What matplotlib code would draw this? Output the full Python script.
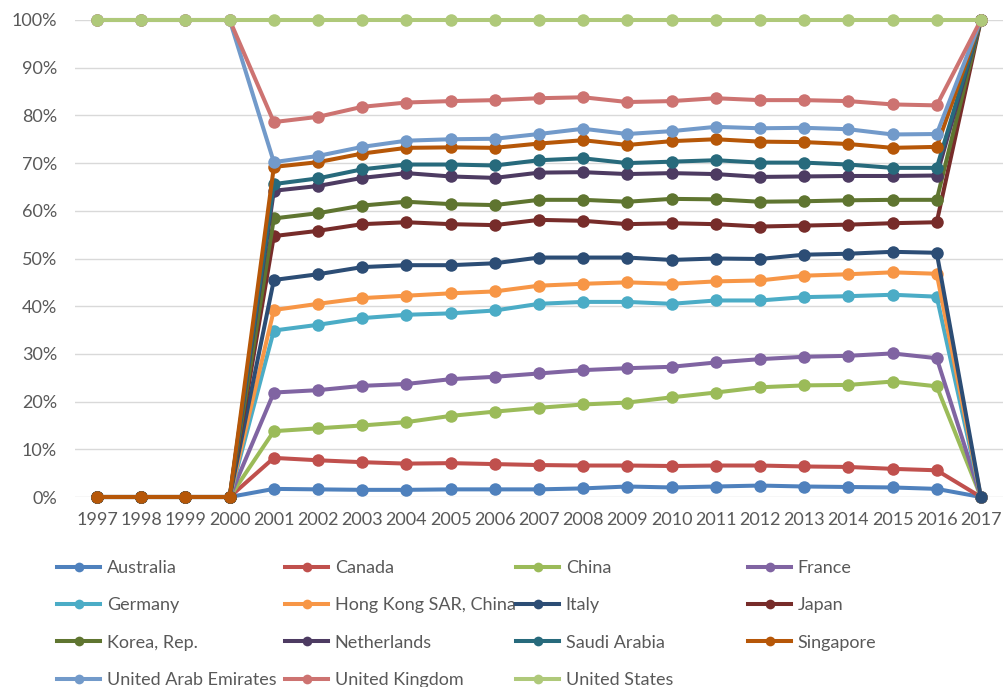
import matplotlib
matplotlib.use("Agg")
import matplotlib.pyplot as plt
from matplotlib.lines import Line2D
from matplotlib.ticker import FuncFormatter

plt.rcParams['font.family'] = ['Lato', 'DejaVu Sans']

years = list(range(1997, 2018))

countries = ["Australia", "Canada", "China", "France", "Germany",
             "Hong Kong SAR, China", "Italy", "Japan", "Korea, Rep.",
             "Netherlands", "Saudi Arabia", "Singapore",
             "United Arab Emirates", "United Kingdom", "United States"]

# plotted (cumulative, percent) values, 1997..2017
australia = [0, 0, 0, 0, 1.7, 1.6, 1.5, 1.5, 1.6, 1.6, 1.6, 1.8, 2.2, 2.0, 2.2, 2.4, 2.2, 2.1, 2.0, 1.7, 0]
canada = [0, 0, 0, 0, 8.2, 7.7, 7.3, 7.0, 7.1, 6.9, 6.7, 6.6, 6.6, 6.5, 6.6, 6.6, 6.4, 6.3, 5.9, 5.6, 0]
china = [0, 0, 0, 0, 13.8, 14.4, 15.0, 15.7, 17.0, 17.9, 18.7, 19.4, 19.8, 20.9, 21.9, 23.0, 23.4, 23.5, 24.2, 23.2, 0]
france = [0, 0, 0, 0, 21.9, 22.4, 23.3, 23.7, 24.7, 25.2, 25.9, 26.6, 27.0, 27.3, 28.2, 28.9, 29.4, 29.6, 30.1, 29.1, 0]
germany = [0, 0, 0, 0, 34.9, 36.1, 37.5, 38.2, 38.5, 39.1, 40.5, 40.9, 40.9, 40.5, 41.2, 41.2, 41.9, 42.1, 42.4, 42.0, 0]
hong_kong = [0, 0, 0, 0, 39.2, 40.5, 41.7, 42.2, 42.7, 43.1, 44.3, 44.7, 45.0, 44.7, 45.2, 45.4, 46.4, 46.7, 47.1, 46.8, 0]
italy = [0, 0, 0, 0, 45.5, 46.7, 48.2, 48.6, 48.6, 49.0, 50.2, 50.2, 50.2, 49.7, 50.0, 49.9, 50.8, 51.0, 51.4, 51.2, 0]
japan = [0, 0, 0, 0, 54.7, 55.8, 57.2, 57.6, 57.2, 57.0, 58.1, 57.9, 57.2, 57.4, 57.2, 56.7, 56.9, 57.1, 57.4, 57.6, 100]
korea = [0, 0, 0, 0, 58.4, 59.5, 61.1, 61.9, 61.4, 61.2, 62.3, 62.3, 61.9, 62.5, 62.4, 61.9, 62.0, 62.2, 62.3, 62.3, 100]
netherlands = [0, 0, 0, 0, 64.2, 65.2, 66.9, 67.9, 67.2, 66.9, 68.0, 68.1, 67.7, 67.9, 67.7, 67.1, 67.2, 67.3, 67.3, 67.4, 100]
saudi_arabia = [0, 0, 0, 0, 65.6, 66.8, 68.7, 69.7, 69.7, 69.5, 70.6, 71.0, 70.0, 70.3, 70.6, 70.1, 70.1, 69.7, 69.0, 69.0, 100]
singapore = [0, 0, 0, 0, 69.2, 70.2, 72.0, 73.2, 73.3, 73.2, 74.1, 74.8, 73.8, 74.6, 75.0, 74.5, 74.4, 74.0, 73.2, 73.4, 100]
uae = [100, 100, 100, 100, 70.2, 71.5, 73.4, 74.7, 75.0, 75.1, 76.1, 77.2, 76.1, 76.7, 77.6, 77.3, 77.4, 77.1, 76.0, 76.1, 100]
uk = [100, 100, 100, 100, 78.6, 79.7, 81.8, 82.7, 83.0, 83.2, 83.6, 83.8, 82.8, 83.0, 83.6, 83.2, 83.2, 83.0, 82.3, 82.1, 100]
us = [100] * 21

series = [australia, canada, china, france, germany, hong_kong, italy, japan,
          korea, netherlands, saudi_arabia, singapore, uae, uk, us]

colors = ["#4F81BD", "#C0504D", "#9BBB59", "#8064A2", "#4BACC6", "#F79646",
          "#2C4D75", "#772C2A", "#5F7530", "#4D3B62", "#276A7C", "#B65708",
          "#729ACA", "#CD7371", "#AFC97A"]

fig = plt.figure(figsize=(10.07, 6.87), dpi=100)
ax = fig.add_axes([75/1007, 1 - 497/687, (1003-75)/1007, (497-20)/687])

for vals, c, name in zip(series, colors, countries):
    ax.plot(years, vals, color=c, lw=2.9, marker='o', ms=9,
            markeredgewidth=0, label=name, clip_on=False, zorder=3)

ax.set_xlim(1996.5, 2017.5)
ax.set_ylim(0, 100)
ax.set_xticks(years)
ax.set_yticks(range(0, 101, 10))
ax.yaxis.set_major_formatter(FuncFormatter(lambda v, p: f"{v:.0f}%"))
ax.grid(axis='y', color='#D9D9D9', lw=1)
ax.set_axisbelow(True)
for s in ax.spines.values():
    s.set_visible(False)
ax.tick_params(axis='both', length=0, labelsize=13, colors='#595959')
ax.tick_params(axis='x', pad=11)
ax.tick_params(axis='y', pad=13)

col_x = [57, 285, 516, 748]
for c in range(4):
    handles = []
    labels = []
    for i in range(c, len(countries), 4):
        handles.append(Line2D([], [], color=colors[i], lw=2.9, marker='o',
                              ms=7, markeredgewidth=0))
        labels.append(countries[i])
    leg = fig.legend(handles, labels, loc='upper left',
                     bbox_to_anchor=(col_x[c]/1007, 1 - 560/687),
                     frameon=False, fontsize=13, handlelength=2.4,
                     handletextpad=0.35, labelspacing=1.18, borderpad=0,
                     borderaxespad=0, labelcolor='#595959')

fig.savefig("out.png", dpi=100)
